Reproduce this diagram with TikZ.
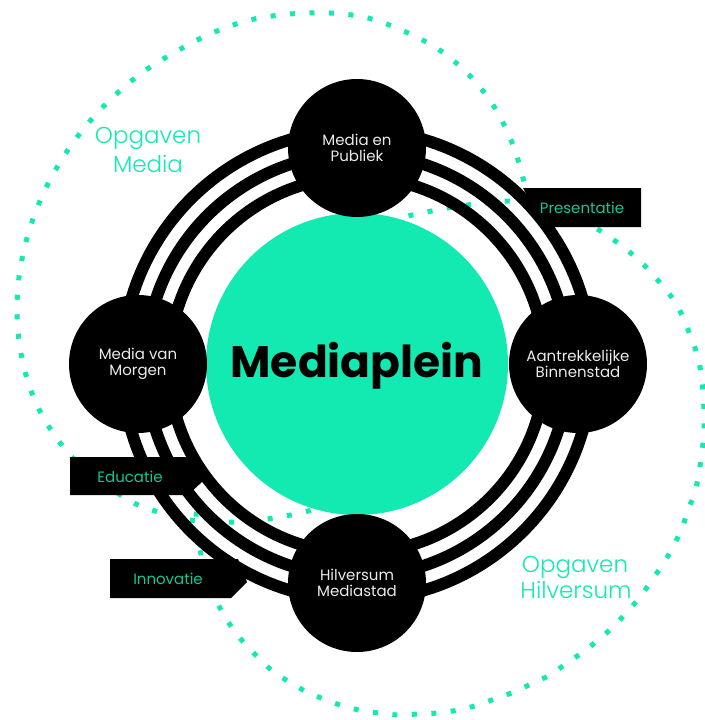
\documentclass[tikz,border=0pt]{standalone}
\usepackage{fontspec}
\setmainfont{Poppins}
\newfontfamily\poplight{Poppins Light}
\definecolor{mint}{RGB}{18,234,178}
\begin{document}
\begin{tikzpicture}[x=1pt,y=-1pt,
  dots/.style={mint, line width=5pt, dash pattern=on 5pt off 14.5pt},
  ringline/.style={line width=12pt, black},
  hub/.style={circle, fill=black, minimum size=138pt, inner sep=0pt, text=white!92!black, font=\fontsize{15}{16.5}\selectfont, align=center},
  tagbox/.style={fill=black},
  tagtext/.style={text=mint!85!black, font=\fontsize{15}{18}\selectfont, inner sep=0pt, anchor=base},
  zone/.style={text=mint, font=\poplight\fontsize{23}{27}\selectfont, inner sep=0pt, anchor=base}]
\useasboundingbox (0,0) rectangle (704,720);
\fill[white] (0,0) rectangle (704,720);
% dotted zones
\draw[dots] plot[smooth, tension=0.55] coordinates {(345,492) (320,507) (300,513) (280,517) (260,520) (240,522) (220,522) (200,521) (183,519) (162,513) (143,507) (125,498) (97,478) (70,455) (46,422) (30,388) (20,348) (17,308) (20,270) (29,231) (43,194) (62,159) (85,127) (112,98) (143,72) (177,51) (212,33) (250,20) (290,14) (330,13) (368,18) (406,32) (441,51) (471,77) (495,108) (513,145) (524,182) (530,212)};
\draw[dots] plot[smooth, tension=0.55] coordinates {(390,222) (408,216) (427,212) (447,208) (467,205) (486,203) (506,201) (530,204) (560,212) (585,222) (602,232) (618,243) (633,255) (648,269) (661,284) (673,299) (683,317) (690,335) (697,354) (701,373) (703,393) (704,412) (704,432) (702,452) (699,472) (695,492) (688,510) (682,528) (673,547) (663,564) (652,580) (640,597) (627,612) (613,627) (598,640) (583,652) (567,663) (550,675) (533,683) (514,692) (497,698) (478,705) (458,710) (438,713) (418,714) (399,715) (379,713) (359,710) (340,705) (321,698) (303,690) (286,680) (270,669) (248,647) (235,632) (224,615) (215,598) (208,578) (202,558) (198,540) (196,521) (197,505)};
% centre
\fill[mint] (357,364) circle[radius=151pt];
\node[font=\bfseries\fontsize{44}{44}\selectfont, inner sep=0pt, anchor=base] (plein) at (357,377) {Mediaplein};
% rings
\coordinate (mid) at (357,365);
\draw[ringline] (mid) circle[radius=235pt];
\draw[ringline] (mid) circle[radius=211.5pt];
\draw[ringline] (mid) circle[radius=188pt];
% tags
\fill[tagbox] (523,188) -- (641,188) -- (641,227) -- (545,227) -- cycle;
\fill[tagbox] (70,457) -- (200,457) -- (203,481) -- (188,495) -- (70,495) -- cycle;
\fill[tagbox] (110,559) -- (238,559) -- (247,582) -- (231,598) -- (110,598) -- cycle;
\node[tagtext] (pres) at (582,213) {Presentatie};
\node[tagtext] (edu) at (130,482) {Educatie};
\node[tagtext] (inno) at (168,584) {Innovatie};
% hubs
\node[hub] (publiek) at (357,148) {Media en\\Publiek};
\node[hub] (binnen) at (578,364) {Aantrekkelijke\\Binnenstad};
\node[hub] (hilv) at (357,583) {Hilversum\\Mediastad};
\node[hub] (morgen) at (138,364) {Media van\\Morgen};
% zone labels
\node[zone] (om1) at (148,143) {Opgaven};
\node[zone] (om2) at (148,172) {Media};
\node[zone] (oh1) at (575,572) {Opgaven};
\node[zone] (oh2) at (576,598) {Hilversum};
\end{tikzpicture}
\end{document}
